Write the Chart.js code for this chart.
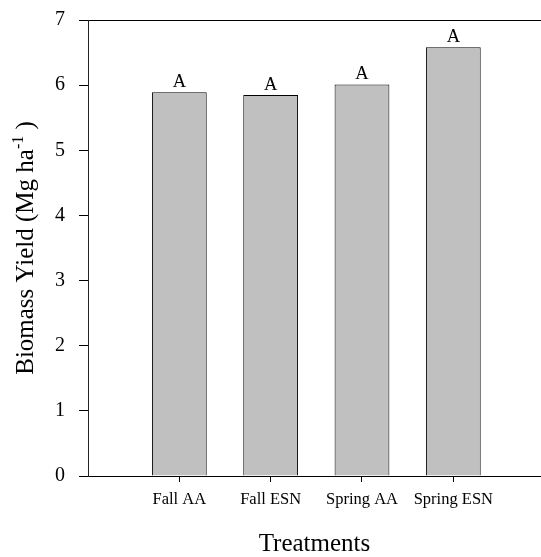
<!DOCTYPE html>
<html>
<head>
<meta charset="utf-8">
<script src="https://cdn.jsdelivr.net/npm/chart.js@4.4.1/dist/chart.umd.min.js"></script>
<style>
  html, body { margin: 0; padding: 0; background: #fff; }
  #c { display: block; }
</style>
</head>
<body>
<canvas id="c" width="541" height="557"></canvas>
<script>
// Treatments and mean biomass yield (Mg ha-1)
const treatments = ['Fall AA', 'Fall ESN', 'Spring AA', 'Spring ESN'];
const biomassYield = [5.89, 5.85, 6.01, 6.58];
// Mean separation letters shown above each bar
const groupLetters = ['A', 'A', 'A', 'A'];
// Y-axis tick values
const yTicks = [0, 1, 2, 3, 4, 5, 6, 7];

const SERIF = "'Liberation Serif', 'Times New Roman', serif";

// Letters above the bars, placed from the bar elements themselves
const letterPlugin = {
  id: 'groupLetters',
  afterDatasetsDraw(chart) {
    const ctx = chart.ctx;
    const meta = chart.getDatasetMeta(0);
    ctx.save();
    ctx.font = '18.5px ' + SERIF;
    ctx.fillStyle = '#000';
    ctx.textAlign = 'center';
    ctx.textBaseline = 'alphabetic';
    meta.data.forEach((bar, i) => {
      ctx.fillText(groupLetters[i], bar.x, bar.y - 5);
    });
    ctx.restore();
  }
};

// Rotated y-axis title with a superscript exponent
const yTitlePlugin = {
  id: 'yTitle',
  afterDraw(chart) {
    const ctx = chart.ctx;
    const area = chart.chartArea;
    const main = 'Biomass Yield (Mg ha';
    const sup = '-1';
    const tail = ' )';
    const mainFont = '25px ' + SERIF;
    const supFont = '16px ' + SERIF;
    ctx.save();
    ctx.fillStyle = '#000';
    ctx.textBaseline = 'alphabetic';
    ctx.textAlign = 'left';
    ctx.font = mainFont;
    const w1 = ctx.measureText(main).width;
    const w3 = ctx.measureText(tail).width;
    ctx.font = supFont;
    const w2 = ctx.measureText(sup).width;
    const total = w1 + w2 + w3;
    ctx.translate(33, (area.top + area.bottom) / 2);
    ctx.rotate(-Math.PI / 2);
    let x = -total / 2;
    ctx.font = mainFont;
    ctx.fillText(main, x, 0);
    x += w1;
    ctx.font = supFont;
    ctx.fillText(sup, x, -10);
    x += w2;
    ctx.font = mainFont;
    ctx.fillText(tail, x, 0);
    ctx.restore();
  }
};

new Chart(document.getElementById('c'), {
  type: 'bar',
  data: {
    datasets: [{
      data: treatments.map((t, i) => ({ x: i + 1, y: biomassYield[i] })),
      backgroundColor: '#c0c0c0',
      borderColor: '#000',
      borderWidth: 1,
      categoryPercentage: 1,
      barPercentage: 0.6
    }]
  },
  options: {
    responsive: false,
    animation: false,
    devicePixelRatio: 1,
    layout: { padding: { top: 20, right: 0, bottom: 0, left: 0 } },
    plugins: {
      legend: { display: false },
      tooltip: { enabled: false }
    },
    scales: {
      x: {
        type: 'linear',
        offset: false,
        min: 0,
        max: 4.96,
        afterBuildTicks(scale) {
          scale.ticks = treatments.map((t, i) => ({ value: i + 1 }));
        },
        afterFit(scale) { scale.height = 81; },
        ticks: {
          autoSkip: false,
          maxRotation: 0,
          padding: 8,
          color: '#000',
          font: { family: SERIF, size: 16.5 },
          callback: (v) => treatments[v - 1]
        },
        grid: {
          offset: false,
          drawOnChartArea: false,
          tickLength: 6,
          tickColor: '#000',
          color: '#000'
        },
        border: { display: true, color: '#000', width: 1 },
        title: {
          display: true,
          text: 'Treatments',
          color: '#000',
          font: { family: SERIF, size: 25, lineHeight: 1 },
          padding: { top: 0, bottom: 0 }
        }
      },
      y: {
        min: 0,
        max: 7,
        afterBuildTicks(scale) {
          scale.ticks = yTicks.map(v => ({ value: v }));
        },
        afterFit(scale) {
          scale.width = 88;
          // keep the horizontal label gap from inflating the vertical padding
          scale.paddingTop = 12;
          scale.paddingBottom = 12;
        },
        ticks: {
          padding: 14,
          color: '#000',
          font: { family: SERIF, size: 20 }
        },
        grid: {
          drawOnChartArea: true,
          tickLength: 9,
          tickColor: '#000',
          color: (c) => (c.tick && c.tick.value === 7 ? '#000' : 'rgba(0,0,0,0)')
        },
        border: { display: true, color: '#222', width: 1 }
      }
    }
  },
  plugins: [letterPlugin, yTitlePlugin]
});
</script>
</body>
</html>
